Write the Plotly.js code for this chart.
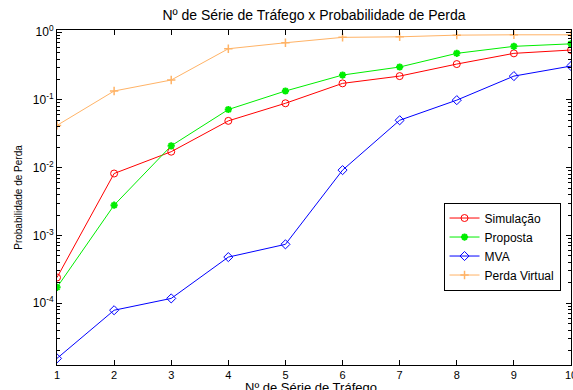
<!DOCTYPE html>
<html>
<head>
<meta charset="utf-8">
<script src="https://cdn.plot.ly/plotly-3.0.1.min.js"></script>
<style>html,body{margin:0;padding:0;background:#fff;}#chart{width:573px;height:390px;}</style>
</head>
<body>
<div id="chart"></div>
<script>
const series_x = [1, 2, 3, 4, 5, 6, 7, 8, 9, 10];
const simulacao = [2.4e-4, 8.2e-3, 0.0172, 0.049, 0.089, 0.175, 0.224, 0.337, 0.485, 0.543];
const proposta = [1.72e-4, 2.8e-3, 0.021, 0.072, 0.135, 0.232, 0.305, 0.485, 0.615, 0.67];
const mva = [1.54e-5, 7.9e-5, 1.18e-4, 4.8e-4, 7.4e-4, 9.2e-3, 0.050, 0.099, 0.224, 0.315];
const perdaVirtual = [0.042, 0.135, 0.196, 0.567, 0.695, 0.835, 0.85, 0.90, 0.91, 0.91];
const seriesNames = ['Simulação', 'Proposta', 'MVA', 'Perda Virtual'];
const yTickVals = [1e-4, 1e-3, 1e-2, 1e-1, 1];
const yTickText = ['10<sup>-4</sup>', '10<sup>-3</sup>', '10<sup>-2</sup>', '10<sup>-1</sup>', '10<sup>0</sup>'];
const xTickVals = [1, 2, 3, 4, 5, 6, 7, 8, 9, 10];

const font = 'Liberation Sans, Arial, sans-serif';

const traces = [
  {x: series_x, y: simulacao, name: seriesNames[0], mode: 'lines+markers',
   line: {color: '#ff0000', width: 1}, marker: {symbol: 'circle-open', size: 7, color: '#ff0000', line: {width: 1}}},
  {x: series_x, y: proposta, name: seriesNames[1], mode: 'lines+markers',
   line: {color: '#00ee00', width: 1}, marker: {symbol: 'asterisk-open', size: 6, color: '#00ee00', line: {width: 2}}},
  {x: series_x, y: mva, name: seriesNames[2], mode: 'lines+markers',
   line: {color: '#0000ff', width: 1}, marker: {symbol: 'diamond-open', size: 7, color: '#0000ff', line: {width: 1}}},
  {x: series_x, y: perdaVirtual, name: seriesNames[3], mode: 'lines+markers',
   line: {color: '#ffb366', width: 1}, marker: {symbol: 'cross-thin-open', size: 6, color: '#ffb366', line: {width: 1.5}}}
];

const layout = {
  width: 573, height: 390,
  margin: {l: 57, r: 2, t: 30, b: 25, pad: 0},
  paper_bgcolor: '#fff', plot_bgcolor: '#fff',
  font: {family: font, size: 12, color: '#000'},
  title: {text: 'Nº de Série de Tráfego x Probabilidade de Perda', font: {family: font, size: 14, color: '#000'},
          x: 0.548, xanchor: 'center', y: 0.975, yanchor: 'top'},
  xaxis: {
    range: [1, 10], tickvals: xTickVals, ticks: 'inside', ticklen: 5, tickwidth: 1, tickcolor: '#000',
    ticklabeloverflow: 'allow',
    showline: true, linecolor: '#000', linewidth: 1, mirror: 'ticks', showgrid: false, zeroline: false,
    tickfont: {family: font, size: 11, color: '#000'}
  },
  yaxis: {
    type: 'log', range: [-4.91, 0.03], tickvals: yTickVals, ticktext: yTickText,
    ticks: 'inside', ticklen: 5, tickwidth: 1, tickcolor: '#000',
    minor: {ticks: 'inside', ticklen: 3, tickcolor: '#000', dtick: 'D1', showgrid: false},
    showline: true, linecolor: '#000', linewidth: 1, mirror: 'ticks', showgrid: false, zeroline: false,
    tickfont: {family: font, size: 12, color: '#000'},
    title: {text: 'Probabilidade de Perda', font: {family: font, size: 10, color: '#000'}, standoff: 8}
  },
  annotations: [
    {text: 'Nº de Série de Tráfego', xref: 'paper', yref: 'paper', x: 0.495, y: -0.038,
     xanchor: 'center', yanchor: 'top', showarrow: false, font: {family: font, size: 13, color: '#000'}}
  ],
  showlegend: true,
  legend: {x: 0.752, y: 0.485, xanchor: 'left', yanchor: 'top', bgcolor: '#fff', bordercolor: '#000', borderwidth: 1,
           font: {family: font, size: 12, color: '#000'}, tracegroupgap: 0, itemwidth: 30}
};

Plotly.newPlot('chart', traces, layout, {displayModeBar: false, staticPlot: true});
</script>
</body>
</html>
